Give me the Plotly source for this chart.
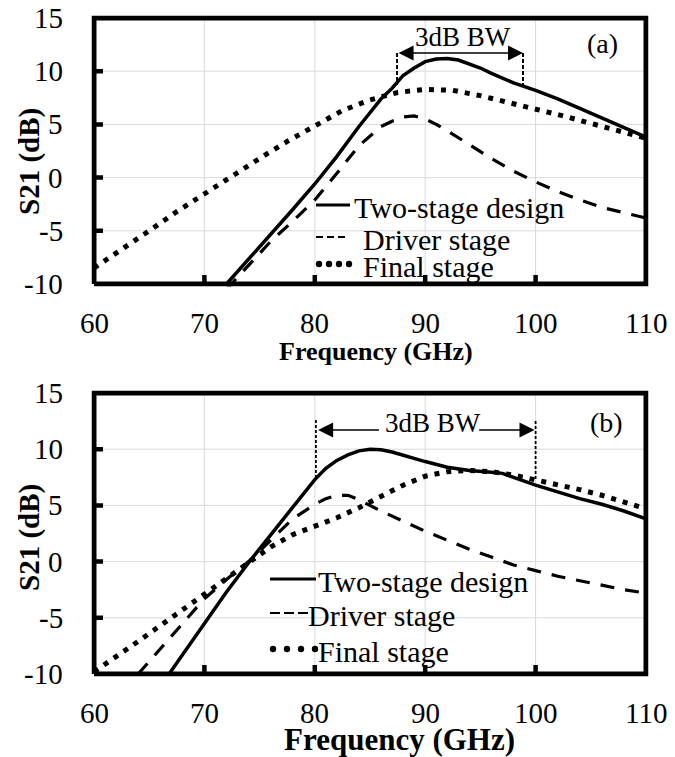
import plotly.graph_objects as go

# ---------------- data: S21 (dB) versus frequency (GHz) ----------------
# (a) panel
freq_a_two = [72, 74, 76, 78, 80, 82, 84, 86, 87, 88, 89, 90, 91, 92, 93, 94, 95, 96, 97, 98, 100, 102, 104, 106, 108, 110]
s21_a_two = [-10, -7.7, -5.3, -3.0, -0.6, 2.0, 4.8, 7.4, 8.4, 9.6, 10.3, 10.9, 11.15, 11.2, 11.05, 10.7, 10.3, 9.8, 9.35, 8.9, 8.2, 7.4, 6.5, 5.6, 4.7, 3.8]

freq_a_drv = [72, 74, 76, 78, 80, 82, 84, 86, 87, 88, 89, 90, 91, 92, 94, 96, 98, 100, 102, 104, 106, 108, 110]
s21_a_drv = [-10.5, -8.2, -6.0, -4.1, -2.1, 0.4, 3.0, 4.8, 5.3, 5.7, 5.8, 5.5, 5.0, 4.4, 3.1, 1.8, 0.6, -0.4, -1.3, -2.1, -2.8, -3.3, -3.8]

freq_a_fin = [60, 62.5, 65, 67.5, 70, 72.5, 75, 77.5, 80, 82.5, 85, 87.5, 90, 92.5, 95, 97.5, 100, 102.5, 105, 107.5, 110]
s21_a_fin = [-8.5, -6.8, -5.0, -3.2, -1.5, 0.2, 1.8, 3.4, 4.9, 6.3, 7.3, 8.0, 8.3, 8.2, 7.7, 7.1, 6.5, 5.8, 5.1, 4.4, 3.7]

# (b) panel
freq_b_two = [66.8, 68, 70, 72, 74, 76, 78, 80, 81, 82, 83, 84, 85, 86, 87, 88, 90, 92, 94, 96, 97, 98, 100, 102, 104, 106, 108, 110]
s21_b_two = [-10, -8.3, -5.4, -2.7, -0.1, 2.4, 4.9, 7.3, 8.3, 9.0, 9.5, 9.85, 10.0, 9.95, 9.75, 9.45, 8.9, 8.4, 8.1, 7.95, 7.85, 7.5, 6.8, 6.2, 5.6, 5.1, 4.5, 3.8]

freq_b_drv = [64, 66, 68, 70, 72, 74, 76, 78, 80, 81, 82, 83, 84, 85, 86, 88, 90, 92, 94, 96, 98, 100, 102, 104, 106, 108, 110]
s21_b_drv = [-10, -7.8, -5.5, -3.3, -1.6, 0.0, 1.9, 3.8, 5.1, 5.6, 5.9, 5.9, 5.5, 5.0, 4.5, 3.6, 2.7, 1.9, 1.1, 0.4, -0.3, -0.8, -1.3, -1.7, -2.1, -2.5, -2.8]

freq_b_fin = [60, 62, 64, 66, 68, 70, 72, 74, 76, 78, 80, 82, 84, 86, 88, 90, 92, 94, 96, 98, 100, 102, 104, 106, 108, 110]
s21_b_fin = [-9.8, -8.5, -7.1, -5.7, -4.3, -2.9, -1.5, -0.1, 1.3, 2.4, 3.1, 3.9, 4.8, 5.8, 6.8, 7.6, 8.0, 8.1, 8.0, 7.7, 7.3, 6.9, 6.4, 5.9, 5.3, 4.7]

# 3 dB bandwidth edges (GHz)
bw_a = [87.45, 98.86]
bw_b = [80.1, 100.0]

series_names = ["Two-stage design", "Driver stage", "Final stage"]
x_ticks = [60, 70, 80, 90, 100, 110]
x_tick_text = ["60", "70", "80", "90", "100", "110"]
y_ticks = [-10, -5, 0, 5, 10, 15]
y_tick_text = ["-10", "-5", "0", "5", "10", "15"]

# ---------------- styling ----------------
W, H = 675, 757
FONT = "Liberation Serif, Times New Roman, Times, serif"
BLACK = "black"
GRID = "#d9d9d9"
X_RANGE = [60, 110]
Y_RANGE = [-10, 15]

# plot boxes in pixels: (left, right, top, bottom) -- frame centre lines
BOX_A = (94, 646, 18, 284)
BOX_B = (94, 646, 393, 674)
LW = 5.0          # frame thickness (px)
TW = 4.5          # tick thickness (px)
TL = 9            # tick length from the frame centre line (px)
PAD = LW / 2      # the axes reach half a frame width beyond the box so the frame is not clipped


def px_x(p):
    return p / W


def px_y(p):
    return 1 - p / H


def serif(size, bold=False):
    f = dict(family=FONT, size=size, color=BLACK)
    if bold:
        f["weight"] = "bold"
    return f


def padded_axes(box):
    """Domains and ranges widened by PAD pixels so that X_RANGE/Y_RANGE still land on the box."""
    l, r, t, b = box
    gx = (X_RANGE[1] - X_RANGE[0]) / (r - l)
    gy = (Y_RANGE[1] - Y_RANGE[0]) / (b - t)
    xr = [X_RANGE[0] - PAD * gx, X_RANGE[1] + PAD * gx]
    yr = [Y_RANGE[0] - PAD * gy, Y_RANGE[1] + PAD * gy]
    xd = [px_x(l - PAD), px_x(r + PAD)]
    yd = [px_y(b + PAD), px_y(t - PAD)]
    return xr, yr, xd, yd, gx, gy


solid = dict(color=BLACK, width=3.5)
dashed = dict(color=BLACK, width=3.2, dash="14px,11px")
dotted = dict(color=BLACK, width=5, dash="5px,7px")

fig = go.Figure()

panels = [
    ("x", "y", BOX_A, (freq_a_two, s21_a_two), (freq_a_drv, s21_a_drv), (freq_a_fin, s21_a_fin)),
    ("x2", "y2", BOX_B, (freq_b_two, s21_b_two), (freq_b_drv, s21_b_drv), (freq_b_fin, s21_b_fin)),
]

bare_axis = dict(showgrid=False, showline=False, showticklabels=False, ticks="",
                 zeroline=False, automargin=False, fixedrange=True)
layout_axes = {}

for xa, ya, box, two, drv, fin in panels:
    xr, yr, xd, yd, gx, gy = padded_axes(box)
    layout_axes["xaxis" + xa[1:]] = dict(bare_axis, range=xr, domain=xd, anchor=ya)
    layout_axes["yaxis" + ya[1:]] = dict(bare_axis, range=yr, domain=yd, anchor=xa)

    # light grid under the curves
    grid_x, grid_y = [], []
    for xv in x_ticks[1:-1]:
        grid_x += [xv, xv, None]
        grid_y += [Y_RANGE[0], Y_RANGE[1], None]
    for yv in y_ticks[1:-1]:
        grid_x += [X_RANGE[0], X_RANGE[1], None]
        grid_y += [yv, yv, None]
    fig.add_trace(go.Scatter(x=grid_x, y=grid_y, mode="lines", line=dict(color=GRID, width=1),
                             xaxis=xa, yaxis=ya, showlegend=False, hoverinfo="skip"))

    # the three S21 curves
    for (fx, fy), style, name in zip((fin, drv, two), (dotted, dashed, solid), series_names[::-1]):
        fig.add_trace(go.Scatter(x=fx, y=fy, mode="lines", line=style, name=name,
                                 xaxis=xa, yaxis=ya, showlegend=False, hoverinfo="skip"))

    # inside tick marks on the bottom and left edges
    tick_x, tick_y = [], []
    for xv in x_ticks[1:-1]:
        tick_x += [xv, xv, None]
        tick_y += [Y_RANGE[0], Y_RANGE[0] + TL * gy, None]
    for yv in y_ticks[1:-1]:
        tick_x += [X_RANGE[0], X_RANGE[0] + TL * gx, None]
        tick_y += [yv, yv, None]
    fig.add_trace(go.Scatter(x=tick_x, y=tick_y, mode="lines", line=dict(color=BLACK, width=TW),
                             xaxis=xa, yaxis=ya, showlegend=False, hoverinfo="skip"))

    # heavy frame round the plot area
    fig.add_trace(go.Scatter(x=[X_RANGE[0], X_RANGE[1], X_RANGE[1], X_RANGE[0], X_RANGE[0]],
                             y=[Y_RANGE[0], Y_RANGE[0], Y_RANGE[1], Y_RANGE[1], Y_RANGE[0]],
                             mode="lines", line=dict(color=BLACK, width=LW),
                             xaxis=xa, yaxis=ya, showlegend=False, hoverinfo="skip"))

fig.update_layout(
    template="none",
    width=W, height=H, autosize=False,
    margin=dict(l=0, r=0, t=0, b=0, pad=0),
    paper_bgcolor="white", plot_bgcolor="white",
    showlegend=False,
    **layout_axes,
)

annotations = []
shapes = []

# tick labels
for xa, ya, box, *_ in panels:
    l, r, t, b = box
    for xv, lab in zip(x_ticks, x_tick_text):
        annotations.append(dict(text=lab, xref=xa, yref="paper", x=xv, y=px_y(b + 39),
                                xanchor="center", yanchor="middle", showarrow=False, font=serif(29)))
    for yv, lab in zip(y_ticks, y_tick_text):
        annotations.append(dict(text=lab, xref="paper", yref=ya, x=px_x(l - 29), y=yv,
                                xanchor="right", yanchor="middle", showarrow=False, font=serif(29)))

# axis titles
for yc in (161, 537):
    annotations.append(dict(text="S21 (dB)", xref="paper", yref="paper", x=px_x(29), y=px_y(yc),
                            xanchor="center", yanchor="middle", textangle=-90, showarrow=False,
                            font=serif(29, True)))
annotations.append(dict(text="Frequency (GHz)", xref="paper", yref="paper", x=px_x(376), y=px_y(351),
                        xanchor="center", yanchor="middle", showarrow=False, font=serif(26, True)))
annotations.append(dict(text="Frequency (GHz)", xref="paper", yref="paper", x=px_x(399), y=px_y(739),
                        xanchor="center", yanchor="middle", showarrow=False, font=serif(31, True)))

# panel tags
annotations.append(dict(text="(a)", xref="x", yref="y", x=106.1, y=12.65, xanchor="center",
                        yanchor="middle", showarrow=False, font=serif(28)))
annotations.append(dict(text="(b)", xref="x2", yref="y2", x=106.4, y=12.4, xanchor="center",
                        yanchor="middle", showarrow=False, font=serif(28)))

# 3 dB bandwidth markers
arrow_style = dict(showarrow=True, arrowhead=2, arrowsize=2, arrowwidth=1.5, arrowcolor=BLACK,
                   standoff=0, startstandoff=0, text="")
annotations.append(dict(arrow_style, xref="x", yref="y", axref="x", ayref="y",
                        x=bw_a[1], y=11.7, ax=bw_a[0], ay=11.7,
                        arrowside="end+start", startarrowhead=2, startarrowsize=2))
annotations.append(dict(text="3dB BW", xref="x", yref="y", x=93.4, y=13.2, xanchor="center",
                        yanchor="middle", showarrow=False, font=serif(27)))
shapes.append(dict(type="line", xref="x", yref="y", x0=bw_a[0], x1=bw_a[0], y0=11.7, y1=8.7,
                   line=dict(color=BLACK, width=2, dash="4px,2px")))
shapes.append(dict(type="line", xref="x", yref="y", x0=bw_a[1], x1=bw_a[1], y0=11.7, y1=8.5,
                   line=dict(color=BLACK, width=2, dash="4px,2px")))

annotations.append(dict(arrow_style, xref="x2", yref="y2", axref="x2", ayref="y2",
                        x=bw_b[0] + 0.2, y=11.7, ax=85.95, ay=11.7))
annotations.append(dict(arrow_style, xref="x2", yref="y2", axref="x2", ayref="y2",
                        x=bw_b[1] - 0.1, y=11.7, ax=94.75, ay=11.7))
annotations.append(dict(text="3dB BW", xref="x2", yref="y2", x=90.7, y=12.33, xanchor="center",
                        yanchor="middle", showarrow=False, font=serif(27)))
shapes.append(dict(type="line", xref="x2", yref="y2", x0=bw_b[0], x1=bw_b[0], y0=12.6, y1=7.4,
                   line=dict(color=BLACK, width=1.8, dash="3px,2px")))
shapes.append(dict(type="line", xref="x2", yref="y2", x0=bw_b[1], x1=bw_b[1], y0=12.5, y1=7.3,
                   line=dict(color=BLACK, width=1.8, dash="3px,2px")))

# in-plot legends (sample x-span, row centres, text starts; all in pixels)
legend_layout = [
    dict(x0=316, x1=350, dash_end=345, dash="7px,4px", rows=[205, 237, 264], text_x=[352, 361, 361]),
    dict(x0=270, x1=316, dash_end=308, dash="10px,4px", rows=[579, 613, 649], text_x=[316, 306, 316]),
]
for lg in legend_layout:
    for i, name in enumerate(series_names):
        ry = lg["rows"][i]
        if i == 0:
            shapes.append(dict(type="line", xref="paper", yref="paper",
                               x0=px_x(lg["x0"]), x1=px_x(lg["x1"]), y0=px_y(ry), y1=px_y(ry),
                               line=dict(color=BLACK, width=3)))
        elif i == 1:
            shapes.append(dict(type="line", xref="paper", yref="paper",
                               x0=px_x(lg["x0"]), x1=px_x(lg["dash_end"]), y0=px_y(ry), y1=px_y(ry),
                               line=dict(color=BLACK, width=2, dash=lg["dash"])))
        else:
            rad = 3.2
            for k in range(4):
                cx = lg["x0"] + 3 + k * (lg["x1"] - lg["x0"] - 4) / 3
                shapes.append(dict(type="circle", xref="paper", yref="paper",
                                   x0=px_x(cx - rad), x1=px_x(cx + rad), y0=px_y(ry + rad), y1=px_y(ry - rad),
                                   fillcolor=BLACK, line=dict(width=0)))
        annotations.append(dict(text=name, xref="paper", yref="paper", x=px_x(lg["text_x"][i]), y=px_y(ry + 2),
                                xanchor="left", yanchor="middle", showarrow=False, font=serif(30)))

fig.update_layout(annotations=annotations, shapes=shapes)
fig.write_html("out.html")
